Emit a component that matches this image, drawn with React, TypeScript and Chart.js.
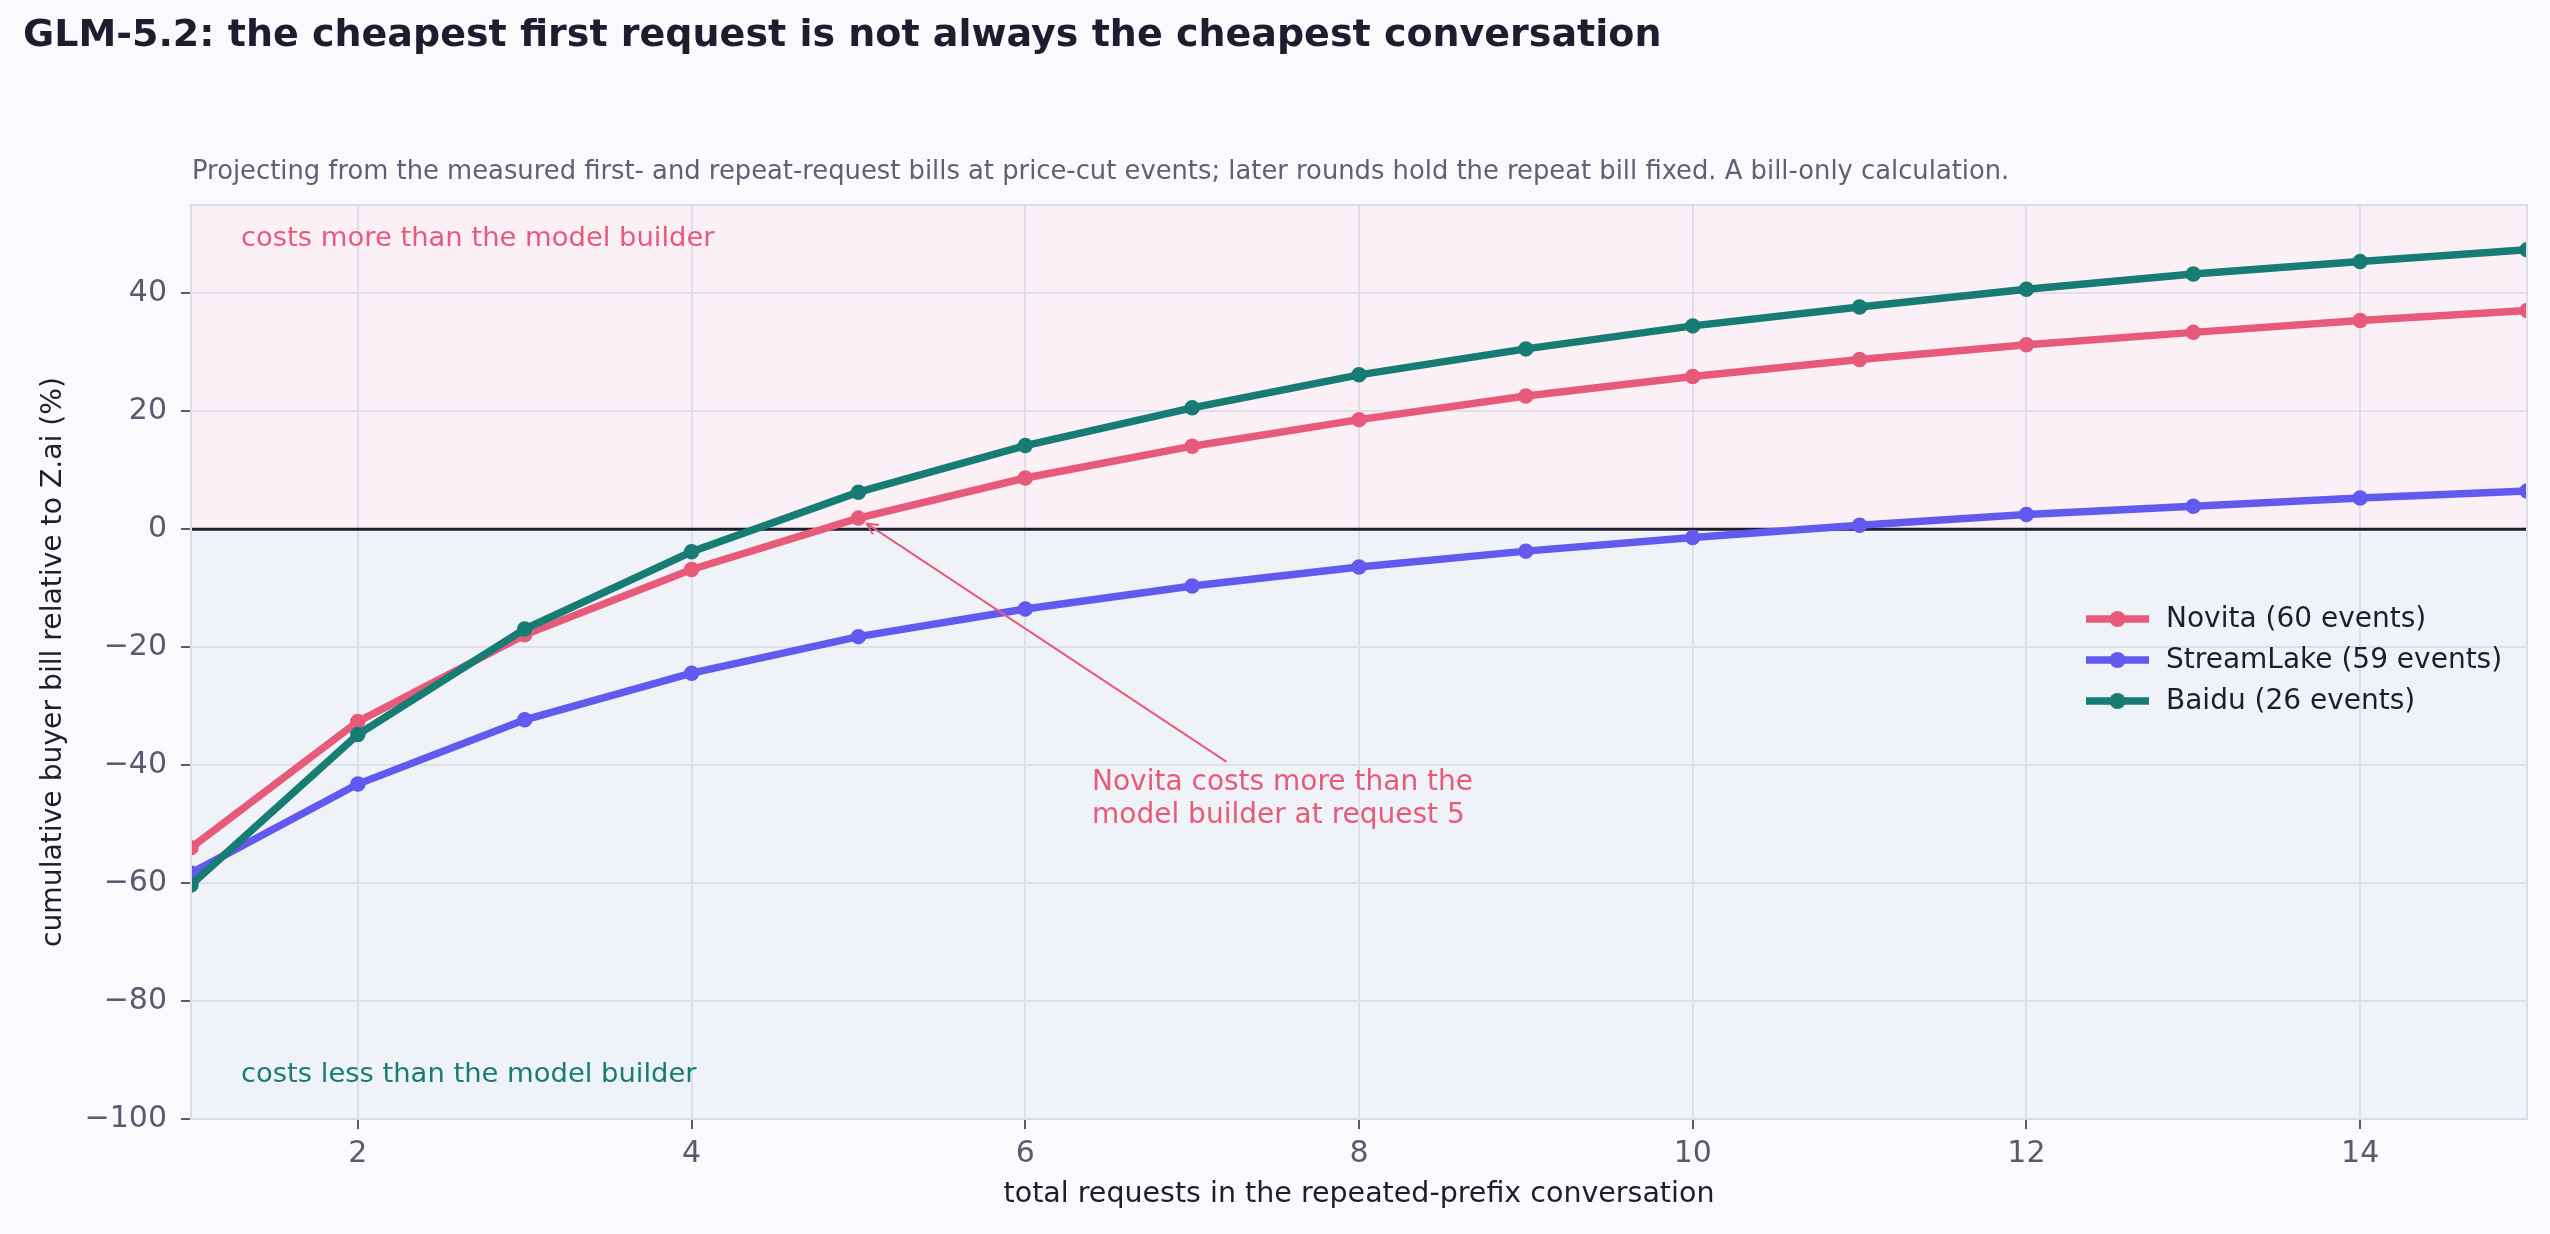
import { useEffect, useRef } from "react";
import { Chart, registerables } from "chart.js";

Chart.register(...registerables);

// data
const requests = [1, 2, 3, 4, 5, 6, 7, 8, 9, 10, 11, 12, 13, 14, 15];
const novita = [-54.0, -32.6, -17.9, -6.8, 1.9, 8.7, 14.1, 18.6, 22.6, 25.9, 28.8, 31.3, 33.4, 35.4, 37.1];
const streamLake = [-58.3, -43.2, -32.3, -24.4, -18.2, -13.5, -9.6, -6.4, -3.7, -1.4, 0.7, 2.5, 3.9, 5.3, 6.5];
const baidu = [-60.3, -34.8, -16.9, -3.8, 6.3, 14.2, 20.6, 26.2, 30.6, 34.5, 37.7, 40.7, 43.3, 45.4, 47.4];

const seriesNames = ["Novita (60 events)", "StreamLake (59 events)", "Baidu (26 events)"];
const seriesColors = ["#e85a7a", "#6259ef", "#177c73"];

const xTicks = [2, 4, 6, 8, 10, 12, 14];
const yTicks = [-100, -80, -60, -40, -20, 0, 20, 40];

const titleText = "GLM-5.2: the cheapest first request is not always the cheapest conversation";
const subtitleText =
  "Projecting from the measured first- and repeat-request bills at price-cut events; later rounds hold the repeat bill fixed. A bill-only calculation.";
const aboveLabel = "costs more than the model builder";
const belowLabel = "costs less than the model builder";
const noteLines = ["Novita costs more than the", "model builder at request 5"];
const noteRequest = 5;
const notePos = { x: 6.4, y: -45.7 };

const FONT = "'DejaVu Sans', sans-serif";
const INK = "#1e1d2f";
const MUTED = "#595a6f";
const GRID = "#dfdeeb";
const TEXT_SIZE = 28;

const fmt = (v: number) => (v < 0 ? "\u2212" + Math.abs(v) : String(v));

const decor = {
  id: "decor",
  beforeDraw(chart: any) {
    const { ctx, chartArea: a, scales } = chart;
    const y0 = scales.y.getPixelForValue(0);
    ctx.save();
    ctx.fillStyle = "#f9f9fe";
    ctx.fillRect(0, 0, chart.width, chart.height);
    ctx.fillStyle = "#fbf0f6";
    ctx.fillRect(a.left, a.top, a.right - a.left, y0 - a.top);
    ctx.fillStyle = "#eff2f7";
    ctx.fillRect(a.left, y0, a.right - a.left, a.bottom - y0);
    ctx.restore();
  },
  beforeDatasetsDraw(chart: any) {
    const { ctx, chartArea: a, scales } = chart;
    const y0 = scales.y.getPixelForValue(0);
    ctx.save();
    ctx.strokeStyle = INK;
    ctx.lineWidth = 3;
    ctx.beginPath();
    ctx.moveTo(a.left, y0);
    ctx.lineTo(a.right, y0);
    ctx.stroke();

    ctx.font = `27.4px ${FONT}`;
    ctx.textAlign = "left";
    ctx.textBaseline = "middle";
    ctx.fillStyle = seriesColors[0];
    ctx.fillText(aboveLabel, a.left + 50, a.top + 34);
    ctx.fillStyle = seriesColors[2];
    ctx.fillText(belowLabel, a.left + 50, a.bottom - 44);
    ctx.restore();
  },
  afterDatasetsDraw(chart: any) {
    const { ctx, chartArea: a, scales } = chart;
    const xs = scales.x;
    const ys = scales.y;
    ctx.save();

    // frame
    ctx.strokeStyle = "#dcdbea";
    ctx.lineWidth = 2;
    ctx.strokeRect(a.left, a.top, a.right - a.left, a.bottom - a.top);

    // annotation
    const tx = xs.getPixelForValue(noteRequest);
    const ty = ys.getPixelForValue(novita[requests.indexOf(noteRequest)]);
    const nx = xs.getPixelForValue(notePos.x);
    const ny = ys.getPixelForValue(notePos.y);
    const lh = 33;
    ctx.font = `${TEXT_SIZE}px ${FONT}`;
    ctx.fillStyle = seriesColors[0];
    ctx.textAlign = "left";
    ctx.textBaseline = "middle";
    noteLines.forEach((l, i) => ctx.fillText(l, nx, ny + (i - (noteLines.length - 1) / 2) * lh));
    const w = Math.max(...noteLines.map((l) => ctx.measureText(l).width));
    const cx = nx + w / 2;
    const cy = ny;
    const dx = tx - cx;
    const dy = ty - cy;
    const t0 = Math.min(Math.abs((w / 2 + 4) / dx), Math.abs(((noteLines.length * lh) / 2 + 4) / dy));
    const sx = cx + dx * t0;
    const sy = cy + dy * t0;
    const len = Math.hypot(dx, dy);
    const ux = dx / len;
    const uy = dy / len;
    const ex = tx - ux * 10;
    const ey = ty - uy * 10;
    ctx.strokeStyle = seriesColors[0];
    ctx.lineWidth = 2;
    ctx.beginPath();
    ctx.moveTo(sx, sy);
    ctx.lineTo(ex, ey);
    ctx.moveTo(ex - ux * 11 - uy * 5.6, ey - uy * 11 + ux * 5.6);
    ctx.lineTo(ex, ey);
    ctx.lineTo(ex - ux * 11 + uy * 5.6, ey - uy * 11 - ux * 5.6);
    ctx.stroke();

    // legend
    const lineX = a.right - 441;
    const textX = a.right - 361;
    seriesNames.forEach((name, i) => {
      const y = a.top + 414 + i * 41;
      ctx.strokeStyle = seriesColors[i];
      ctx.lineWidth = 7.5;
      ctx.beginPath();
      ctx.moveTo(lineX, y);
      ctx.lineTo(lineX + 63, y);
      ctx.stroke();
      ctx.fillStyle = seriesColors[i];
      ctx.beginPath();
      ctx.arc(lineX + 31.5, y, 8, 0, Math.PI * 2);
      ctx.fill();
      ctx.fillStyle = INK;
      ctx.font = `${TEXT_SIZE}px ${FONT}`;
      ctx.fillText(name, textX, y + 1);
    });
    ctx.restore();
  },
  afterDraw(chart: any) {
    const { ctx, chartArea: a } = chart;
    ctx.save();
    ctx.textAlign = "left";
    ctx.textBaseline = "middle";
    ctx.fillStyle = INK;
    ctx.font = `bold 38px ${FONT}`;
    ctx.fillText(titleText, 23, 36);
    ctx.fillStyle = "#5f6075";
    ctx.font = `25.8px ${FONT}`;
    ctx.fillText(subtitleText, a.left + 1, 172);
    ctx.restore();
  },
};

const series = [novita, streamLake, baidu];

export default function App() {
  const canvasRef = useRef<HTMLCanvasElement | null>(null);
  const chartRef = useRef<Chart | null>(null);

  useEffect(() => {
    if (!canvasRef.current) return;
    if (chartRef.current) chartRef.current.destroy();

    chartRef.current = new Chart(canvasRef.current, {
      type: "line",
      data: {
        datasets: series.map((values, i) => ({
          label: seriesNames[i],
          data: requests.map((r, j) => ({ x: r, y: values[j] })),
          borderColor: seriesColors[i],
          backgroundColor: seriesColors[i],
          pointBackgroundColor: seriesColors[i],
          pointBorderColor: seriesColors[i],
          borderWidth: 7.5,
          pointRadius: 7,
          pointBorderWidth: 1.5,
          tension: 0,
          clip: 0,
          order: series.length - i,
        })),
      },
      options: {
        responsive: false,
        animation: false,
        events: [],
        layout: { padding: { top: 205, right: 23, bottom: 0, left: 0 } },
        plugins: {
          legend: { display: false },
          tooltip: { enabled: false },
          title: { display: false },
        },
        scales: {
          x: {
            type: "linear",
            min: 1,
            max: 15,
            afterBuildTicks: (scale: any) => {
              scale.ticks = xTicks.map((v) => ({ value: v }));
            },
            afterFit: (scale: any) => {
              scale.height = 115;
            },
            border: { display: false },
            grid: { color: GRID, lineWidth: 2, tickLength: 10, tickColor: MUTED, tickWidth: 2 },
            ticks: {
              color: MUTED,
              padding: 7,
              font: { family: FONT, size: 30 },
              callback: (v: any) => fmt(Number(v)),
            },
            title: {
              display: true,
              text: "total requests in the repeated-prefix conversation",
              color: INK,
              font: { family: FONT, size: 28.5 },
              padding: { top: 0, bottom: 22 },
            },
          },
          y: {
            type: "linear",
            min: -100,
            max: 55,
            afterBuildTicks: (scale: any) => {
              scale.ticks = yTicks.map((v) => ({ value: v }));
            },
            afterFit: (scale: any) => {
              scale.width = 191;
            },
            border: { display: false },
            grid: { color: GRID, lineWidth: 2, tickLength: 10, tickColor: MUTED, tickWidth: 2 },
            ticks: {
              color: MUTED,
              padding: 14,
              font: { family: FONT, size: 30 },
              callback: (v: any) => fmt(Number(v)),
            },
            title: {
              display: true,
              text: "cumulative buyer bill relative to Z.ai (%)",
              color: INK,
              font: { family: FONT, size: 28.2 },
              padding: { top: 37, bottom: 0 },
            },
          },
        },
      },
      plugins: [decor],
    });

    return () => {
      if (chartRef.current) {
        chartRef.current.destroy();
        chartRef.current = null;
      }
    };
  }, []);

  return (
    <div style={{ position: "fixed", left: 0, top: 0, width: 2550, height: 1234, background: "#f9f9fe" }}>
      <canvas ref={canvasRef} width={2550} height={1234} />
    </div>
  );
}
